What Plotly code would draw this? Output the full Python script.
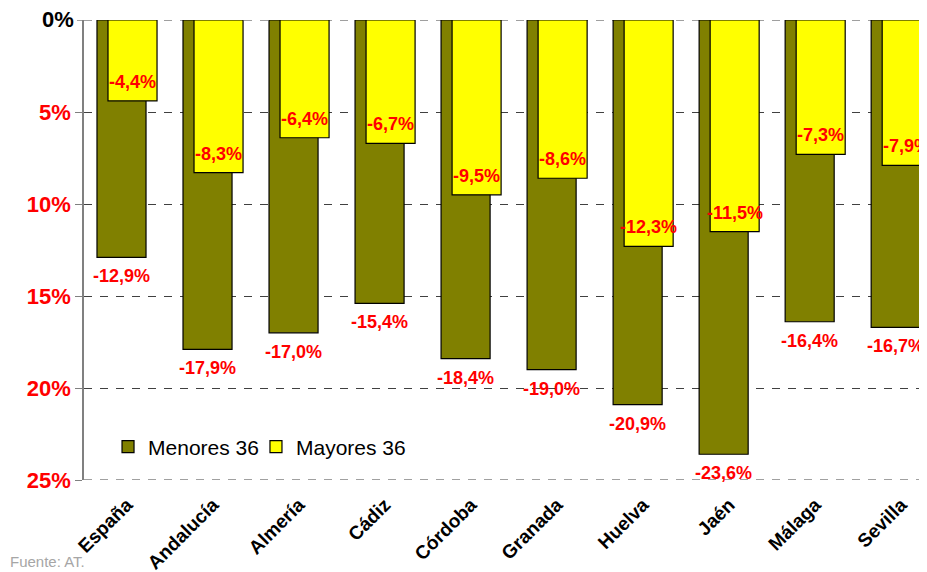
import plotly.graph_objects as go

categories = ["España", "Andalucía", "Almería", "Cádiz", "Córdoba", "Granada",
              "Huelva", "Jaén", "Málaga", "Sevilla"]
menores = [12.9, 17.9, 17.0, 15.4, 18.4, 19.0, 20.9, 23.6, 16.4, 16.7]
mayores = [4.4, 8.3, 6.4, 6.7, 9.5, 8.6, 12.3, 11.5, 7.3, 7.9]
tick_vals = [5, 10, 15, 20, 25]
tick_text = ["5%", "10%", "15%", "20%", "25%"]
zero_label = "0%"

FONT = "Arial, Liberation Sans, sans-serif"
OLIVE = "#808000"
YELLOW = "#FFFF00"
W = 0.57
OFF_M = -0.349
OFF_Y = -0.221

x = list(range(len(categories)))

fig = go.Figure()
fig.add_trace(go.Bar(x=x, y=menores, name="Menores 36", width=W, offset=OFF_M,
                     legend="legend",
                     marker=dict(color=OLIVE, line=dict(color="black", width=1.2))))
fig.add_trace(go.Bar(x=x, y=mayores, name="Mayores 36", width=W, offset=OFF_Y,
                     legend="legend2",
                     marker=dict(color=YELLOW, line=dict(color="black", width=1.2))))

def fmt(v):
    return "-" + f"{v:.1f}".replace(".", ",") + "%"

ann = []
for i, v in enumerate(menores):
    ann.append(dict(x=i + OFF_M + W / 2, y=v, text=fmt(v), showarrow=False,
                    yanchor="middle", yshift=-19,
                    font=dict(family=FONT, size=18, color="red", weight="bold")))
for i, v in enumerate(mayores):
    ann.append(dict(x=i + OFF_Y + W / 2, y=v, text=fmt(v), showarrow=False,
                    yanchor="middle", yshift=19,
                    font=dict(family=FONT, size=18, color="red", weight="bold")))
ann.append(dict(x=0, y=-0.178, xref="paper", yref="paper", xanchor="left",
                yanchor="middle", xshift=-76, text="Fuente: AT.", showarrow=False,
                font=dict(family=FONT, size=15, color="#A6A6A6")))
ann.append(dict(x=0, y=0, xref="paper", yref="y", xanchor="right", yanchor="middle",
                xshift=-9, yshift=1, text=zero_label, showarrow=False, borderpad=0,
                font=dict(family=FONT, size=22, color="black", weight="bold")))

shapes = []
for yv in [0, 25]:
    shapes.append(dict(type="line", xref="paper", yref="y", x0=0, x1=1, y0=yv, y1=yv,
                       layer="below", line=dict(color="#404040", width=1, dash="8px,8px")))
shapes.append(dict(type="line", xref="paper", yref="y", xsizemode="pixel", xanchor=0,
                   x0=-7, x1=0, y0=0, y1=0, line=dict(color="#808080", width=1.5)))

leg_common = dict(orientation="h", y=0.072, xanchor="left", yanchor="middle",
                  bgcolor="rgba(0,0,0,0)", font=dict(family=FONT, size=21, color="black"),
                  itemwidth=30)

fig.update_layout(
    width=919, height=564,
    margin=dict(l=76, r=0, t=12, b=92, autoexpand=False),
    plot_bgcolor="white", paper_bgcolor="white",
    barmode="overlay",
    showlegend=True,
    legend=dict(x=0.0285, **leg_common),
    legend2=dict(x=0.204, **leg_common),
    annotations=ann,
    shapes=shapes,
    xaxis=dict(tickmode="array", tickvals=x, ticktext=categories, tickangle=-45,
               range=[-0.5, 9.30], showgrid=False, zeroline=False, showline=False,
               automargin=False, ticklabelstandoff=9,
               ticks="", tickfont=dict(family=FONT, size=19, color="black", weight="bold")),
    yaxis=dict(range=[25, 0], tickmode="array", tickvals=tick_vals, ticktext=tick_text,
               automargin=False,
               showgrid=True, gridcolor="#404040", griddash="8px,8px", gridwidth=1,
               zeroline=False, showline=True, linecolor="#808080", linewidth=1.5,
               ticks="outside", ticklen=7, tickcolor="#808080",
               tickfont=dict(family=FONT, size=22, color="red", weight="bold")),
)

fig.write_html("out.html")
